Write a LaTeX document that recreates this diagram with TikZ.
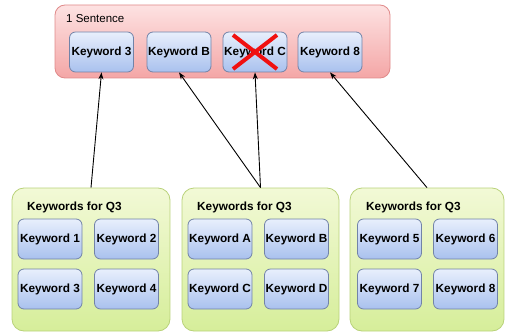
\documentclass[tikz,border=0pt]{standalone}
\usepackage{fontspec}
\setmainfont{Liberation Sans}
\usetikzlibrary{arrows.meta}

\definecolor{sentencetop}{HTML}{FDE2E2}
\definecolor{sentencebottom}{HTML}{F4A6A6}
\definecolor{sentenceline}{HTML}{E08A8A}
\definecolor{grouptop}{HTML}{F2F9D6}
\definecolor{groupbottom}{HTML}{D6EE9A}
\definecolor{groupline}{HTML}{B9D27A}
\definecolor{keytop}{HTML}{E8EFFC}
\definecolor{keybottom}{HTML}{A9C1EE}
\definecolor{keyline}{HTML}{7283A8}
\definecolor{crossred}{HTML}{F01010}

\begin{document}
\begin{tikzpicture}[x=1pt, y=-1pt,
    sentencebox/.style={draw=sentenceline, line width=0.8pt, rounded corners=10pt,
      top color=sentencetop, bottom color=sentencebottom,
      minimum width=335pt, minimum height=73pt},
    groupbox/.style={draw=groupline, line width=0.8pt, rounded corners=12pt,
      top color=grouptop, bottom color=groupbottom,
      minimum height=143pt},
    keybox/.style={draw=keyline, line width=0.8pt, rounded corners=6pt,
      top color=keytop, bottom color=keybottom,
      minimum width=64pt, minimum height=40pt, inner sep=0pt,
      font=\fontsize{11.8}{13}\selectfont\bfseries},
    title/.style={anchor=west, inner sep=0pt, font=\fontsize{11.8}{13}\selectfont\bfseries},
    link/.style={-{Stealth[length=7pt, width=5pt]}, line width=0.9pt}]
  \useasboundingbox (0,0) rectangle (505,334);

  % Sentence
  \node[sentencebox] (sentence) at (222.5,41.5) {};
  \node[anchor=west, inner sep=0pt, font=\fontsize{11.5}{13}\selectfont] (sentencetitle) at (66,19) {1 Sentence};
  \node[keybox] (s3) at (101.5,52) {Keyword 3};
  \node[keybox] (sB) at (179,52) {Keyword B};
  \node[keybox] (sC) at (255,52) {Keyword C};
  \node[keybox] (s8) at (330,52) {Keyword 8};

  % Cross over Keyword C
  \draw[crossred, line width=4pt] (sC.center) ++(-22,-17) -- ++(44,34);
  \draw[crossred, line width=4pt] (sC.center) ++(22,-17) -- ++(-44,34);

  % Groups
  \node[groupbox, minimum width=158pt] (groupA) at (91,259.5) {};
  \node[groupbox, minimum width=157pt] (groupB) at (260.5,259.5) {};
  \node[groupbox, minimum width=154pt] (groupC) at (427,259.5) {};
  \node[title] (titleA) at (27,207) {Keywords for Q3};
  \node[title] (titleB) at (197,207) {Keywords for Q3};
  \node[title] (titleC) at (366,207) {Keywords for Q3};

  % Keywords of the groups
  \node[keybox] (a1) at (50,239) {Keyword 1};
  \node[keybox] (a2) at (126.5,239) {Keyword 2};
  \node[keybox] (a3) at (50,289) {Keyword 3};
  \node[keybox] (a4) at (126.5,289) {Keyword 4};
  \node[keybox] (bA) at (220,239) {Keyword A};
  \node[keybox] (bB) at (296.5,239) {Keyword B};
  \node[keybox] (bC) at (220,289) {Keyword C};
  \node[keybox] (bD) at (296.5,289) {Keyword D};
  \node[keybox] (c5) at (389.5,239) {Keyword 5};
  \node[keybox] (c6) at (465.5,239) {Keyword 6};
  \node[keybox] (c7) at (389.5,289) {Keyword 7};
  \node[keybox] (c8) at (465.5,289) {Keyword 8};

  % Links
  \draw[link] (groupA.north) -- (s3.south);
  \draw[link] (groupB.north) -- (sB.south);
  \draw[link] (groupB.north) -- (sC.south);
  \draw[link] (groupC.north) -- (s8.south);
\end{tikzpicture}
\end{document}
